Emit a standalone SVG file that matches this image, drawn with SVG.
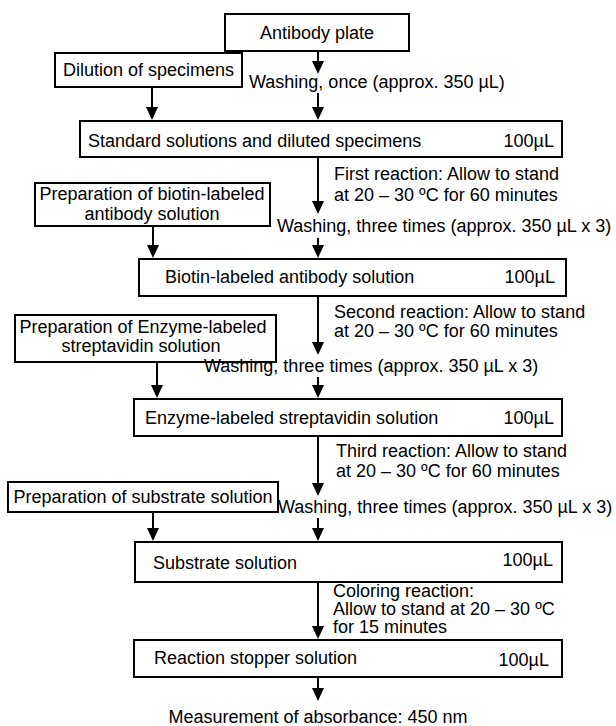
<svg xmlns="http://www.w3.org/2000/svg" width="616" height="726" viewBox="0 0 616 726">
<style>
.box{fill:#fff;stroke:#000;stroke-width:2}
.t{font-family:"Liberation Sans",Arial,sans-serif;font-size:18px;fill:#000}
.m{text-anchor:middle}
.e{text-anchor:end}
.c{stroke:#000;stroke-width:2;fill:none;marker-end:url(#ah)}
</style>
<defs>
<marker id="ah" markerUnits="userSpaceOnUse" viewBox="0 0 13 12" refX="9" refY="6" markerWidth="13" markerHeight="12" orient="auto">
<path d="M0,0 L13,6 L0,12 z" fill="#000"/>
</marker>
</defs>
<rect width="616" height="726" fill="#fff"/>
<g id="connectors">
<line class="c" x1="318" y1="51" x2="318" y2="70"/>
<line class="c" x1="318" y1="93" x2="318" y2="116"/>
<line class="c" x1="152" y1="87" x2="152" y2="116"/>
<line class="c" x1="318" y1="157" x2="318" y2="210"/>
<line class="c" x1="318" y1="238" x2="318" y2="254"/>
<line class="c" x1="153" y1="226" x2="153" y2="254"/>
<line class="c" x1="318" y1="296" x2="318" y2="351"/>
<line class="c" x1="318" y1="377" x2="318" y2="394"/>
<line class="c" x1="157" y1="362" x2="157" y2="394"/>
<line class="c" x1="318" y1="436" x2="318" y2="492"/>
<line class="c" x1="318" y1="518" x2="318" y2="537"/>
<line class="c" x1="153" y1="512" x2="153" y2="537"/>
<line class="c" x1="318" y1="582" x2="318" y2="635"/>
<line class="c" x1="318" y1="678" x2="318" y2="697"/>
</g>
<g id="antibody-plate">
<rect class="box" x="225" y="14" width="184" height="37"/>
<text class="t m" x="317" y="39">Antibody plate</text>
</g>
<g id="dilution">
<rect class="box" x="55" y="53" width="187" height="34"/>
<text class="t m" x="148.5" y="76">Dilution of specimens</text>
</g>
<g id="washing1">
<text class="t" x="249" y="88">Washing, once (approx. 350 µL)</text>
</g>
<g id="standard">
<rect class="box" x="80" y="121" width="482" height="36"/>
<text class="t" x="88" y="147">Standard solutions and diluted specimens</text>
<text class="t e" x="554" y="147">100µL</text>
</g>
<g id="first-reaction">
<text class="t" x="334" y="180">First reaction: Allow to stand</text>
<text class="t" x="334" y="201">at 20 – 30 ºC for 60 minutes</text>
</g>
<g id="prep-biotin">
<rect class="box" x="35" y="183" width="235" height="43"/>
<text class="t m" x="152" y="200">Preparation of biotin-labeled</text>
<text class="t m" x="152" y="220">antibody solution</text>
</g>
<g id="washing2">
<text class="t" x="277" y="232">Washing, three times (approx. 350 µL x 3)</text>
</g>
<g id="biotin">
<rect class="box" x="139" y="259" width="427" height="37"/>
<text class="t" x="165" y="283">Biotin-labeled antibody solution</text>
<text class="t e" x="555" y="283">100µL</text>
</g>
<g id="second-reaction">
<text class="t" x="334" y="318">Second reaction: Allow to stand</text>
<text class="t" x="334" y="337">at 20 – 30 ºC for 60 minutes</text>
</g>
<g id="prep-enzyme">
<rect class="box" x="15" y="315" width="261" height="47"/>
<text class="t m" x="143" y="333">Preparation of Enzyme-labeled</text>
<text class="t m" x="141" y="352">streptavidin solution</text>
</g>
<g id="washing3">
<text class="t" x="204" y="372">Washing, three times (approx. 350 µL x 3)</text>
</g>
<g id="enzyme">
<rect class="box" x="134" y="399" width="428" height="37"/>
<text class="t" x="145" y="424">Enzyme-labeled streptavidin solution</text>
<text class="t e" x="554" y="424">100µL</text>
</g>
<g id="third-reaction">
<text class="t" x="336" y="457">Third reaction: Allow to stand</text>
<text class="t" x="336" y="477">at 20 – 30 ºC for 60 minutes</text>
</g>
<g id="prep-substrate">
<rect class="box" x="8" y="482" width="270" height="30"/>
<text class="t m" x="143" y="503">Preparation of substrate solution</text>
</g>
<g id="washing4">
<text class="t" x="278" y="513">Washing, three times (approx. 350 µL x 3)</text>
</g>
<g id="substrate">
<rect class="box" x="135" y="542" width="427" height="40"/>
<text class="t" x="153" y="569">Substrate solution</text>
<text class="t e" x="553" y="566">100µL</text>
</g>
<g id="coloring-reaction">
<text class="t" x="333" y="597">Coloring reaction:</text>
<text class="t" x="333" y="615">Allow to stand at 20 – 30 ºC</text>
<text class="t" x="333" y="633">for 15 minutes</text>
</g>
<g id="stopper">
<rect class="box" x="134" y="640" width="428" height="37"/>
<text class="t" x="154" y="664">Reaction stopper solution</text>
<text class="t e" x="549" y="666">100µL</text>
</g>
<g id="measurement">
<text class="t m" x="318" y="723">Measurement of absorbance: 450 nm</text>
</g>
</svg>
